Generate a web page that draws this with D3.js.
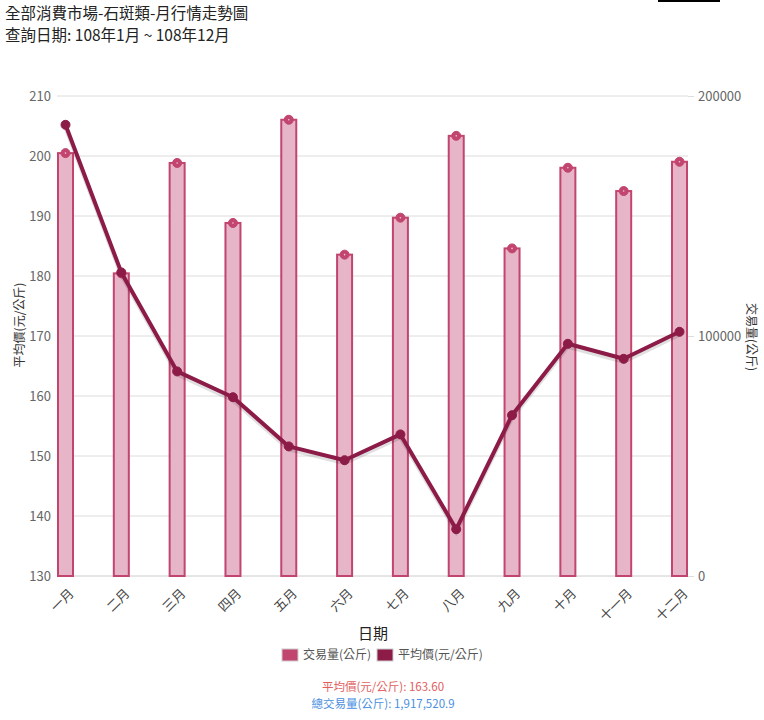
<!DOCTYPE html>
<html><head><meta charset="utf-8">
<script src="https://cdn.jsdelivr.net/npm/d3@7"></script>
<style>body{margin:0;background:#fff;font-family:"Noto Sans CJK TC","Noto Sans",sans-serif;}</style>
</head><body><svg id="c" width="764" height="720"></svg>
<script>
const months = ["一月","二月","三月","四月","五月","六月","七月","八月","九月","十月","十一月","十二月"];
const volume = [176200,126100,172100,147100,190100,133900,149300,183400,136500,170100,160400,172600];
const price = [205.2,180.6,164.1,159.8,151.6,149.3,153.6,137.8,156.8,168.7,166.2,170.7];
const leftTicks = [130,140,150,160,170,180,190,200,210];
const rightTicks = [0,100000,200000];
const titleLines = ["全部消費市場-石斑類-月行情走勢圖","查詢日期: 108年1月 ~ 108年12月"];
const avgText = "平均價(元/公斤): 163.60";
const totalText = "總交易量(公斤): 1,917,520.9";

const svg = d3.select("#c");
const font = '"Noto Sans CJK TC","Noto Sans",sans-serif';
const L = 57, R = 688, T = 96, B = 576, bw = 17;

svg.append("rect").attr("x",658).attr("y",0).attr("width",62).attr("height",2).attr("fill","#000");

svg.selectAll(".tl").data(titleLines).join("text")
  .attr("x",5).attr("y",(d,i)=>19+i*22).attr("font-size",15.5).attr("fill","#222")
  .attr("font-family",font).text(d=>d);

const x = d3.scalePoint().domain(months).range([L+bw/2, R-bw/2]);
const yL = d3.scaleLinear().domain([130,210]).range([B,T]);
const yR = d3.scaleLinear().domain([0,200000]).range([B,T]);

svg.append("g").selectAll("line").data(leftTicks).join("line")
  .attr("x1",L).attr("x2",R).attr("y1",d=>yL(d)).attr("y2",d=>yL(d))
  .attr("stroke",d=>d===130?"#ccc":"#dcdcdc").attr("stroke-width",1);

const gl = svg.append("g").attr("transform",`translate(${L},0)`)
  .call(d3.axisLeft(yL).tickValues(leftTicks).tickSize(0).tickPadding(6));
gl.select(".domain").remove();
gl.selectAll("text").attr("font-size",13).attr("fill","#666").attr("font-family",font);

const gr = svg.append("g").attr("transform",`translate(${R},0)`)
  .call(d3.axisRight(yR).tickValues(rightTicks).tickSize(6).tickPadding(4).tickFormat(d3.format("d")));
gr.select(".domain").remove();
gr.selectAll("line").attr("stroke","#ddd");
gr.selectAll("text").attr("font-size",13).attr("fill","#666").attr("font-family",font);

svg.append("text").attr("transform","translate(24,325) rotate(-90)").attr("text-anchor","middle")
  .attr("font-size",12).attr("fill","#333").attr("font-family",font).text("平均價(元/公斤)");
svg.append("text").attr("transform","translate(747,337) rotate(90)").attr("text-anchor","middle")
  .attr("font-size",12).attr("fill","#333").attr("font-family",font).text("交易量(公斤)");

svg.append("g").selectAll("rect").data(volume).join("rect")
  .attr("x",(d,i)=>x(months[i])-bw/2+1).attr("width",bw-2)
  .attr("y",d=>yR(d)).attr("height",d=>B-yR(d))
  .attr("fill","#e6b5c7").attr("stroke","#c2456f").attr("stroke-width",2);
svg.append("g").selectAll("circle").data(volume).join("circle")
  .attr("cx",(d,i)=>x(months[i])).attr("cy",d=>yR(d)).attr("r",4.5)
  .attr("fill","#c2456f").attr("stroke","#c2456f").attr("stroke-width",1);
svg.append("g").selectAll("circle").data(volume).join("circle")
  .attr("cx",(d,i)=>x(months[i])).attr("cy",d=>yR(d)).attr("r",0.8).attr("fill","#f0c8d6");

const line = d3.line().x((d,i)=>x(months[i])).y(d=>yL(d));
svg.append("path").datum(price).attr("d",line).attr("fill","none")
  .attr("stroke","rgba(0,0,0,0.12)").attr("stroke-width",4).attr("transform","translate(0,3)");
svg.append("path").datum(price).attr("d",line).attr("fill","none")
  .attr("stroke","#8c1c47").attr("stroke-width",4).attr("stroke-linejoin","round");
svg.append("g").selectAll("circle").data(price).join("circle")
  .attr("cx",(d,i)=>x(months[i])).attr("cy",d=>yL(d)).attr("r",4.5)
  .attr("fill","#8c1c47").attr("stroke","#8c1c47").attr("stroke-width",1);

svg.append("g").selectAll("text").data(months).join("text")
  .attr("transform",d=>`translate(${x(d)+6},${591}) rotate(-45)`)
  .attr("text-anchor","end").attr("dy","0.35em")
  .attr("font-size",13).attr("fill","#444").attr("font-family",font).text(d=>d);

svg.append("text").attr("x",373).attr("y",639).attr("text-anchor","middle")
  .attr("font-size",15).attr("fill","#222").attr("font-family",font).text("日期");

const legend = [{t:"交易量(公斤)",c:"#c2456f",x:282},{t:"平均價(元/公斤)",c:"#8c1c47",x:377}];
const lg = svg.append("g").selectAll("g").data(legend).join("g");
lg.append("rect").attr("x",d=>d.x).attr("y",649).attr("width",16).attr("height",12)
  .attr("fill",d=>d.c).attr("stroke","#ccc").attr("stroke-width",1);
lg.append("text").attr("x",d=>d.x+21).attr("y",659).attr("font-size",12).attr("fill","#555")
  .attr("font-family",font).text(d=>d.t);

svg.append("text").attr("x",383).attr("y",691).attr("text-anchor","middle")
  .attr("font-size",11.5).attr("fill","#e06060").attr("font-family",font).text(avgText);
svg.append("text").attr("x",383).attr("y",708).attr("text-anchor","middle")
  .attr("font-size",11.5).attr("fill","#4a8fe0").attr("font-family",font).text(totalText);
</script></body></html>
